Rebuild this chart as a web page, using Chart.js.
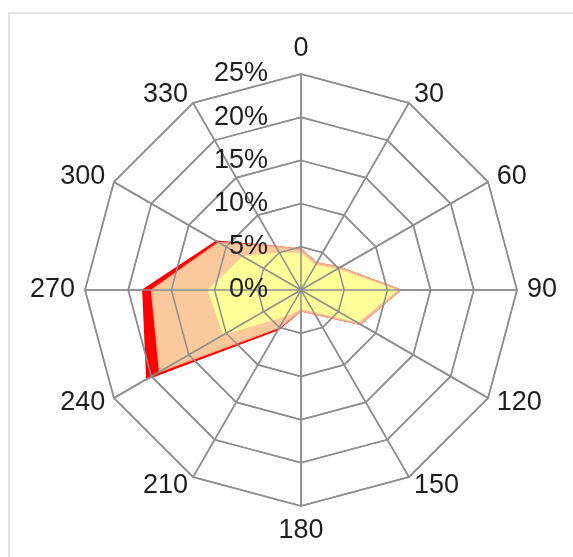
<!DOCTYPE html>
<html lang="en">
<head>
<meta charset="UTF-8">
<title>Wind rose</title>
<script src="https://cdn.jsdelivr.net/npm/chart.js"></script>
<style>
    body { margin: 0; background: #fff; font-family: "Liberation Sans", Arial, sans-serif; }
    .frame { position: absolute; left: 8px; top: 12px; width: 620px; height: 600px; border: 2px solid #e4e4e4; }
    .wrap { position: absolute; left: 0; top: 0; width: 573px; height: 557px; }
</style>
</head>
<body>
<div class="frame"></div>
<div class="wrap"><canvas id="rose"></canvas></div>

<script>
// directions in degrees
const directions = ['0', '30', '60', '90', '120', '150', '180', '210', '240', '270', '300', '330'];

// frequency (%) per direction, one array per band
const yellowValues = [4.3, 3.3, 4.9, 11.2, 7.6, 2.9, 2.2, 3.5, 10.4, 10.8, 7.8, 5.0];
const orangeValues = [4.7, 3.6, 5.2, 11.5, 7.9, 3.2, 2.4, 5.0, 18.9, 17.3, 11.0, 5.8];
const redValues    = [4.7, 3.6, 5.2, 11.5, 7.9, 3.2, 2.4, 5.3, 20.6, 18.3, 11.3, 5.8];

const tickValues = [0, 5, 10, 15, 20, 25];

const FONT = '27px "Liberation Sans", Arial, sans-serif';
const TEXT = '#1e1e1e';

// grid goes back on top of the filled areas
const gridOnTop = {
    id: 'gridOnTop',
    afterDatasetsDraw(chart) {
        chart.scales.r.drawGrid();
    }
};

// percent labels left of the 0 axis, direction labels round the outside
const labelPlugin = {
    id: 'roseLabels',
    afterDraw(chart) {
        const r = chart.scales.r;
        const ctx = chart.ctx;
        ctx.save();
        ctx.font = FONT;
        ctx.fillStyle = TEXT;

        ctx.textAlign = 'right';
        ctx.textBaseline = 'middle';
        tickValues.forEach(v => {
            const d = r.getDistanceFromCenterForValue(v);
            ctx.fillText(v + '%', r.xCenter - 33, r.yCenter - d);
        });

        directions.forEach((label, i) => {
            const p = r.getPointPosition(i, r.drawingArea + 10);
            const deg = Number(label);
            let y = p.y;
            if (deg === 0) {
                ctx.textAlign = 'center';
                ctx.textBaseline = 'alphabetic';
                y -= 8;
            } else if (deg === 180) {
                ctx.textAlign = 'center';
                ctx.textBaseline = 'alphabetic';
                y += 22;
            } else {
                ctx.textAlign = deg < 180 ? 'left' : 'right';
                ctx.textBaseline = 'middle';
            }
            ctx.fillText(label, p.x, y);
        });
        ctx.restore();
    }
};

new Chart(document.getElementById('rose'), {
    type: 'radar',
    data: {
        labels: directions,
        datasets: [
            {
                data: yellowValues,
                backgroundColor: '#ffff99',
                borderColor: '#ffff99',
                borderWidth: 0,
                fill: 'origin'
            },
            {
                data: orangeValues,
                backgroundColor: '#fac99c',
                borderColor: '#f9b08a',
                borderWidth: 1.5,
                fill: 'origin'
            },
            {
                data: redValues,
                backgroundColor: '#ff0000',
                borderColor: '#ff0000',
                borderWidth: 1.5,
                fill: 'origin'
            }
        ]
    },
    options: {
        responsive: true,
        maintainAspectRatio: false,
        animation: false,
        layout: { padding: { left: 85, right: 56, top: 74, bottom: 51 } },
        elements: { point: { radius: 0 }, line: { tension: 0 } },
        plugins: {
            legend: { display: false },
            tooltip: { enabled: false }
        },
        scales: {
            r: {
                min: 0,
                max: 25,
                ticks: { stepSize: 5, display: false },
                grid: { color: '#8e8e8e', lineWidth: 1.5 },
                angleLines: { color: '#8e8e8e', lineWidth: 1.5 },
                pointLabels: { display: false }
            }
        }
    },
    plugins: [gridOnTop, labelPlugin]
});
</script>
</body>
</html>
